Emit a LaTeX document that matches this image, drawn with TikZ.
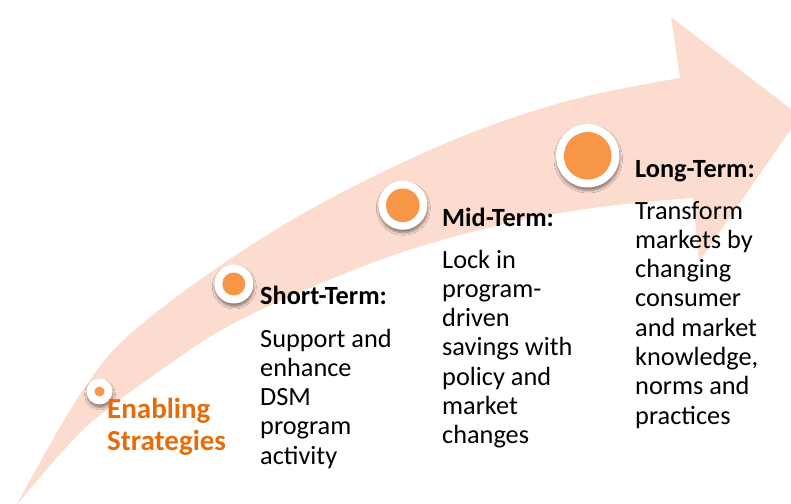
\documentclass[tikz,border=0pt]{standalone}
\usepackage{fontspec}
\setmainfont{Carlito}
\usetikzlibrary{shadows.blur}
\definecolor{band}{HTML}{FBDCCF}
\definecolor{dotorange}{HTML}{F79646}
\definecolor{enabletext}{HTML}{E46C0A}
\begin{document}
\begin{tikzpicture}[x=1pt,y=-1pt,
  ring/.style={circle, fill=white, inner sep=0pt, minimum size=#1,
    blur shadow={shadow xshift=0.5pt, shadow yshift=-3pt, shadow opacity=45,
                 shadow blur steps=6, shadow blur radius=2.5pt}},
  core/.style={circle, fill=dotorange, inner sep=0pt, minimum size=#1},
  head/.style={anchor=base west, inner sep=0pt, font=\fontsize{26.3}{29.3}\selectfont\bfseries},
  % multi-line labels are placed by the baseline of their last line
  body/.style={anchor=base west, inner sep=0pt, align=left, font=\fontsize{26.3}{29.3}\selectfont},
  enabling/.style={anchor=base west, inner sep=0pt, align=left, text=enabletext,
    font=\fontsize{29}{32}\selectfont\bfseries},
]
\useasboundingbox (0,0) rectangle (791,503);

% curved arrow band
\fill[band] plot[smooth, tension=0.6] coordinates
    {(16,506) (83,390) (143,323) (280,227) (430,150) (560,103) (680,78)}
  -- (671,17) -- (800,116) -- (699,262) -- (693,198)
  -- plot[smooth, tension=0.6] coordinates
    {(693,198) (600,207) (500,225) (380,260) (240,320) (157,373) (83,430) (16,506)}
  -- cycle;

% milestone markers
\node[ring=26pt]   (ringE) at (99.5,391.5) {};
\node[core=10pt]   (coreE) at (ringE) {};
\node[ring=39pt]   (ringS) at (233.8,284) {};
\node[core=23pt]   (coreS) at (ringS) {};
\node[ring=49pt]   (ringM) at (402.8,205.3) {};
\node[core=33.6pt] (coreM) at (ringM) {};
\node[ring=63.4pt] (ringL) at (587.7,155.8) {};
\node[core=47.6pt] (coreL) at (ringL) {};

% labels
\node[enabling] (enab) at (107,450) {Enabling\\Strategies};

\node[head] (headS) at (260,304.5) {Short-Term:};
\node[body] (bodyS) at (260,464.2) {Support and\\enhance\\DSM\\program\\activity};

\node[head] (headM) at (442,226) {Mid-Term:};
\node[body] (bodyM) at (442,443.8) {Lock in\\program-\\driven\\savings with\\policy and\\market\\changes};

\node[head] (headL) at (635,177.5) {Long-Term:};
\node[body] (bodyL) at (635,424.1) {Transform\\markets by\\changing\\consumer\\and market\\knowledge,\\norms and\\practices};
\end{tikzpicture}
\end{document}
